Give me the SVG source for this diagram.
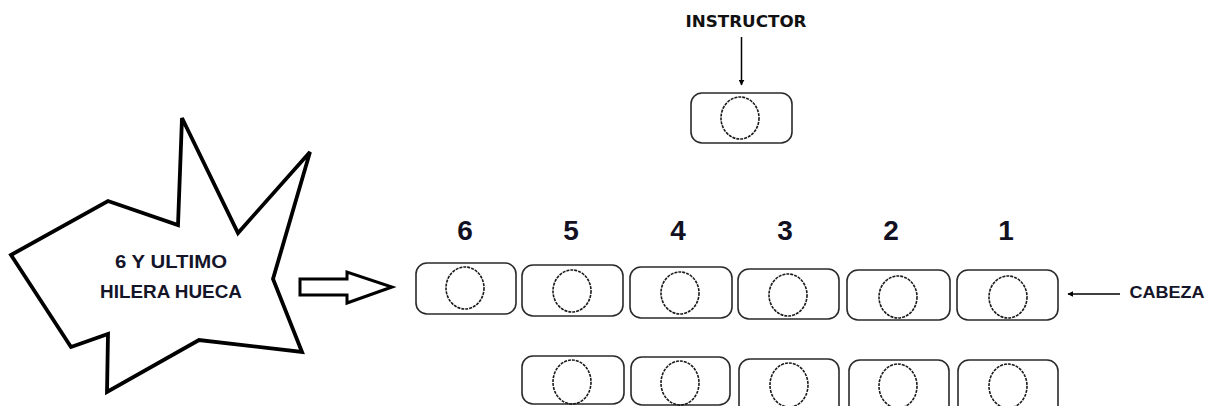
<svg xmlns="http://www.w3.org/2000/svg" width="1217" height="406" viewBox="0 0 1217 406">
<style>
.box{fill:#fff;stroke:#2a2a2a;stroke-width:1.6}
.head{fill:none;stroke:#1a1a1a;stroke-width:1.6;stroke-dasharray:3 1}
.num{font-family:"Liberation Sans",Arial,sans-serif;font-weight:bold;font-size:28px;fill:#111122;text-anchor:middle}
.lbl{font-family:"Liberation Sans",Arial,sans-serif;font-weight:bold;fill:#15152a;text-anchor:middle}
.thin{stroke:#000;stroke-width:1.5;fill:none}
</style>
<defs>
<marker id="ah" viewBox="0 0 10 10" refX="9" refY="5" markerWidth="6" markerHeight="6" orient="auto" markerUnits="userSpaceOnUse">
<path d="M0,0 L10,5 L0,10 z" fill="#000"/>
</marker>
</defs>
<rect width="1217" height="406" fill="#fff"/>

<g id="star">
<polygon points="182,118 238,233 310,152 273,279 302,352 199,340 107,392 108,334 71,347 11,255 108,201 178,225" fill="#fff" stroke="#000" stroke-width="3.8" stroke-linejoin="miter"/>
<text class="lbl" x="171" y="268" font-size="19" textLength="112" lengthAdjust="spacingAndGlyphs">6 Y ULTIMO</text>
<text class="lbl" x="171" y="298" font-size="19" textLength="142" lengthAdjust="spacingAndGlyphs">HILERA HUECA</text>
</g>

<g id="big-arrow">
<polygon points="300,279 347,279 347,272 392,287 347,303 347,295 300,295" fill="#fff" stroke="#000" stroke-width="3"/>
</g>

<g id="instructor">
<text x="746" y="27" font-family="DejaVu Sans,sans-serif" font-weight="bold" font-size="16" fill="#111" text-anchor="middle" textLength="121" lengthAdjust="spacingAndGlyphs">INSTRUCTOR</text>
<rect class="box" x="691" y="93" width="101" height="50" rx="11"/>
<ellipse class="head" cx="740" cy="118" rx="19" ry="21"/>
</g>

<g id="labels">
<text class="num" x="465" y="240">6</text>
<text class="num" x="571" y="240">5</text>
<text class="num" x="678" y="240">4</text>
<text class="num" x="785" y="240">3</text>
<text class="num" x="891" y="240">2</text>
<text class="num" x="1006" y="240">1</text>
</g>

<g id="p6"><rect class="box" x="416" y="263" width="100" height="51" rx="11"/><ellipse class="head" cx="465" cy="288" rx="19" ry="21"/></g>
<g id="p5"><rect class="box" x="522" y="265" width="101" height="51" rx="11"/><ellipse class="head" cx="572" cy="291" rx="19" ry="21"/></g>
<g id="p4"><rect class="box" x="630" y="267" width="102" height="51" rx="11"/><ellipse class="head" cx="680" cy="293" rx="19" ry="21"/></g>
<g id="p3"><rect class="box" x="738" y="269" width="101" height="50" rx="11"/><ellipse class="head" cx="788" cy="295" rx="19" ry="21"/></g>
<g id="p2"><rect class="box" x="847" y="270" width="103" height="50" rx="11"/><ellipse class="head" cx="898" cy="297" rx="19" ry="21"/></g>
<g id="p1"><rect class="box" x="957" y="270" width="101" height="50" rx="11"/><ellipse class="head" cx="1008" cy="297" rx="19" ry="21"/></g>

<g id="q1"><rect class="box" x="522" y="356" width="102" height="48" rx="11"/><ellipse class="head" cx="572" cy="382" rx="19" ry="22"/></g>
<g id="q2"><rect class="box" x="631" y="357" width="99" height="48" rx="11"/><ellipse class="head" cx="680" cy="383" rx="19" ry="22"/></g>
<g id="q3"><rect class="box" x="739" y="359" width="100" height="60" rx="11"/><ellipse class="head" cx="789" cy="385" rx="19" ry="22"/></g>
<g id="q4"><rect class="box" x="849" y="360" width="100" height="60" rx="11"/><ellipse class="head" cx="898" cy="386" rx="19" ry="22"/></g>
<g id="q5"><rect class="box" x="958" y="360" width="100" height="60" rx="11"/><ellipse class="head" cx="1008" cy="386" rx="19" ry="22"/></g>

<g id="cabeza">
<text class="lbl" x="1167" y="298" font-size="16.5" textLength="75" lengthAdjust="spacingAndGlyphs">CABEZA</text>
</g>

<g id="connectors">
<line class="thin" x1="741.5" y1="37" x2="741.5" y2="85" marker-end="url(#ah)"/>
<line class="thin" x1="1120" y1="294" x2="1068" y2="294" marker-end="url(#ah)"/>
</g>
</svg>
